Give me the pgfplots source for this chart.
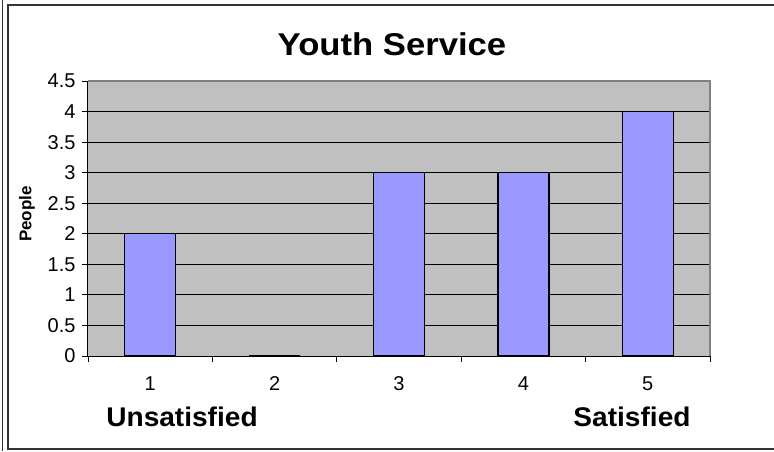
\documentclass[border=0pt]{standalone}
\usepackage{pgfplots}
\pgfplotsset{compat=1.18}
\usepackage{graphicx}
\usepackage{fontspec}
\setmainfont{Liberation Sans}
\definecolor{plotbg}{HTML}{C0C0C0}
\definecolor{barfill}{HTML}{9999FF}
\definecolor{edgegray}{HTML}{808080}
\definecolor{framecol}{HTML}{333333}
\begin{document}
\begin{tikzpicture}[x=1pt,y=1pt]
\useasboundingbox (0,0) rectangle (774,451);
% outer frame
\draw[framecol, line width=1.2pt] (2.5,0) -- (2.5,451);
\draw[framecol, line width=1.4pt] (774,446) -- (8,446) -- (8,2) -- (774,2);
\begin{axis}[
  at={(88pt,95pt)}, anchor=south west,
  scale only axis, width=622pt, height=275pt,
  xmin=0.5, xmax=5.5, ymin=0, ymax=4.5,
  ybar, bar width=51pt,
  axis line style={draw=none},
  axis background/.style={fill=plotbg},
  xtick={1,2,3,4,5},
  major x tick style={draw=none},
  minor xtick={0.5,1.5,2.5,3.5,4.5,5.5},
  minor x tick style={black, line width=0.8pt},
  minor tick length=6pt,
  ytick={0,0.5,...,4.5},
  major y tick style={black, line width=0.8pt},
  major tick length=6pt,
  tick align=outside,
  xtick pos=bottom, ytick pos=left,
  ymajorgrids, major grid style={black, line width=0.9pt},
  /pgf/number format/assume math mode=true,
  /pgf/number format/fixed,
  tick label style={font=\fontsize{20}{24}\selectfont},
  yticklabel style={xshift=-3pt},
  xticklabel style={yshift=-11pt},
  clip=false,
  after end axis/.code={
    \draw[edgegray, line width=1.2pt] (rel axis cs:0,1) -- (rel axis cs:1,1) -- (rel axis cs:1,0);
    \draw[black, line width=1pt] (rel axis cs:0,1) -- (rel axis cs:0,0) -- (rel axis cs:1,0);
  },
]
\addplot[fill=barfill, draw=black, line width=1.3pt] coordinates {(1,2) (2,0) (3,3) (4,3) (5,4)};
\end{axis}
\node at (392,407) {\scalebox{1.1}[1]{\bfseries\fontsize{31.5}{38}\selectfont Youth Service}};
\node[rotate=90] at (27,237) {\bfseries\fontsize{17}{21}\selectfont People};
\node at (182,34) {\scalebox{1.04}[1]{\bfseries\fontsize{27}{32}\selectfont Unsatisfied}};
\node at (632,34) {\scalebox{1.04}[1]{\bfseries\fontsize{27}{32}\selectfont Satisfied}};
\end{tikzpicture}
\end{document}
